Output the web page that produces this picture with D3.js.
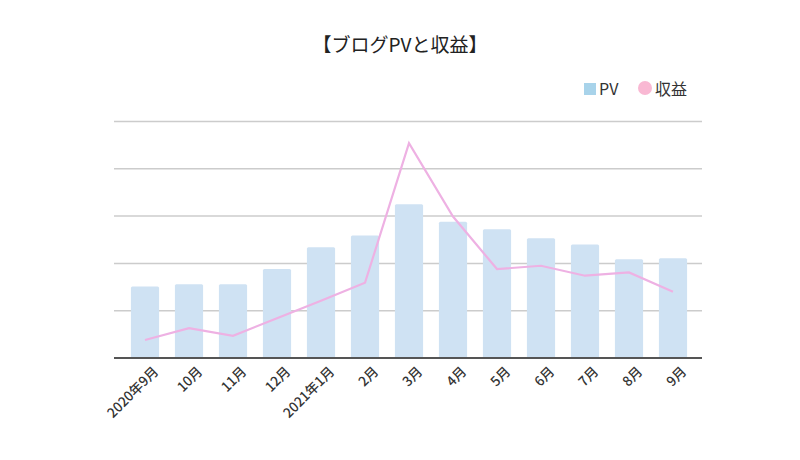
<!DOCTYPE html>
<html><head><meta charset="utf-8">
<script src="https://cdn.jsdelivr.net/npm/d3@7/dist/d3.min.js"></script>
<style>body{margin:0;background:#fff}svg{display:block}text{font-family:"Noto Sans CJK JP","Noto Sans",sans-serif}</style>
</head><body><svg id="c" width="800" height="460"></svg>
<script>
const months = ["2020年9月","10月","11月","12月","2021年1月","2月","3月","4月","5月","6月","7月","8月","9月"];
const pv = [1510,1560,1560,1880,2340,2590,3250,2880,2720,2530,2400,2090,2110];
const revenue = [380,630,470,840,1210,1590,4540,2990,1880,1950,1740,1810,1400];
const yTicks = [0,1000,2000,3000,4000,5000];
const title = "【ブログPVと収益】";
const legendItems = ["PV","収益"];

const svg = d3.select("#c");
const x = d3.scaleBand().domain(months).range([123,695]).paddingInner(0.36).paddingOuter(0.18);
const y = d3.scaleLinear().domain([0,5000]).range([358,121.5]);
const xc = d => x(d) + x.bandwidth()/2;

// gridlines
svg.append("g").selectAll("line").data(yTicks.slice(1)).join("line")
  .attr("x1",114).attr("x2",702).attr("y1",d=>y(d)).attr("y2",d=>y(d))
  .attr("stroke","#cccccc").attr("stroke-width",1.5);

// bars
svg.append("g").selectAll("rect").data(months).join("rect")
  .attr("x",d=>x(d)).attr("width",x.bandwidth())
  .attr("y",(d,i)=>y(pv[i])).attr("height",(d,i)=>y(0)-y(pv[i]))
  .attr("fill","#cfe2f3").attr("rx",1.5);

// baseline
svg.append("line").attr("x1",114).attr("x2",702).attr("y1",y(0)).attr("y2",y(0))
  .attr("stroke","#555").attr("stroke-width",2);

// line
const line = d3.line().x((d,i)=>xc(months[i])).y(d=>y(d));
svg.append("path").datum(revenue).attr("d",line).attr("fill","none")
  .attr("stroke","#eeb1e3").attr("stroke-width",2.2).attr("stroke-linejoin","miter");

// x axis labels
const xAxis = d3.axisBottom(x).tickSize(0).tickPadding(0);
const gx = svg.append("g").attr("transform",`translate(0,${y(0)})`).call(xAxis);
gx.select(".domain").remove();
gx.selectAll("text").attr("transform","translate(11,11) rotate(-45)").attr("text-anchor","end")
  .attr("dy","0.35em").attr("dx",0).attr("y",0)
  .style("font-size","13.5px").style("font-weight","500").attr("fill","#333");

// title
svg.append("text").attr("x",400).attr("y",52).attr("text-anchor","middle")
  .style("font-size","19px").attr("fill","#222").text(title);

// legend
const lg = svg.append("g");
lg.append("rect").attr("x",584).attr("y",83).attr("width",12).attr("height",12).attr("fill","#a8d3ea");
lg.append("text").attr("x",599).attr("y",95).style("font-size","16px").attr("fill","#333").text(legendItems[0]);
lg.append("circle").attr("cx",645).attr("cy",88).attr("r",7).attr("fill","#f9b8d3");
lg.append("text").attr("x",655).attr("y",95).style("font-size","16px").attr("fill","#333").text(legendItems[1]);
</script></body></html>
